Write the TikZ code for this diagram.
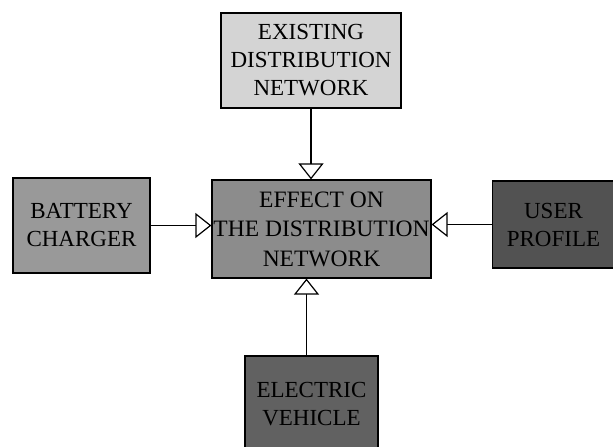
\documentclass[tikz,border=0pt]{standalone}
\usepackage{fontspec}
\setmainfont{Liberation Serif}
\usetikzlibrary{arrows.meta,calc}
\begin{document}
\begin{tikzpicture}[x=1pt,y=-1pt,
  blk/.style={draw=black,line width=1.2pt,align=center,inner sep=0pt,
    font=\fontsize{23}{28}\selectfont},
  conn/.style={line width=1.2pt,-{Triangle[open,length=16pt,width=25pt,fill=white]}}]
\useasboundingbox (0,0) rectangle (613,447);
\fill[white] (0,0) rectangle (613,447);
\node[blk,fill=black!17,minimum width=180pt,minimum height=95pt] (top) at (311,60.5) {EXISTING\\DISTRIBUTION\\NETWORK};
\node[blk,fill=black!45,minimum width=219pt,minimum height=98pt,font=\fontsize{23.5}{29.5}\selectfont] (ctr) at (321.5,229) {EFFECT ON\\THE DISTRIBUTION\\NETWORK};
\node[blk,fill=black!40,minimum width=137pt,minimum height=95pt] (lft) at (81.5,225.5) {BATTERY\\CHARGER};
\node[blk,fill=black!68,minimum width=122pt,minimum height=87pt] (rgt) at (553.5,224.5) {USER\\PROFILE};
\node[blk,fill=black!62,minimum width=133pt,minimum height=96pt] (bot) at (311.5,404) {ELECTRIC\\VEHICLE};
\draw[conn] (top.south) -- (top.south |- ctr.north);
\draw[conn] (lft.east) -- (lft.east -| ctr.west);
\draw[conn] (rgt.west) -- (rgt.west -| ctr.east);
\draw[conn] ([xshift=-5pt]bot.north) -- ([xshift=-5pt]bot.north |- ctr.south);
\end{tikzpicture}
\end{document}
